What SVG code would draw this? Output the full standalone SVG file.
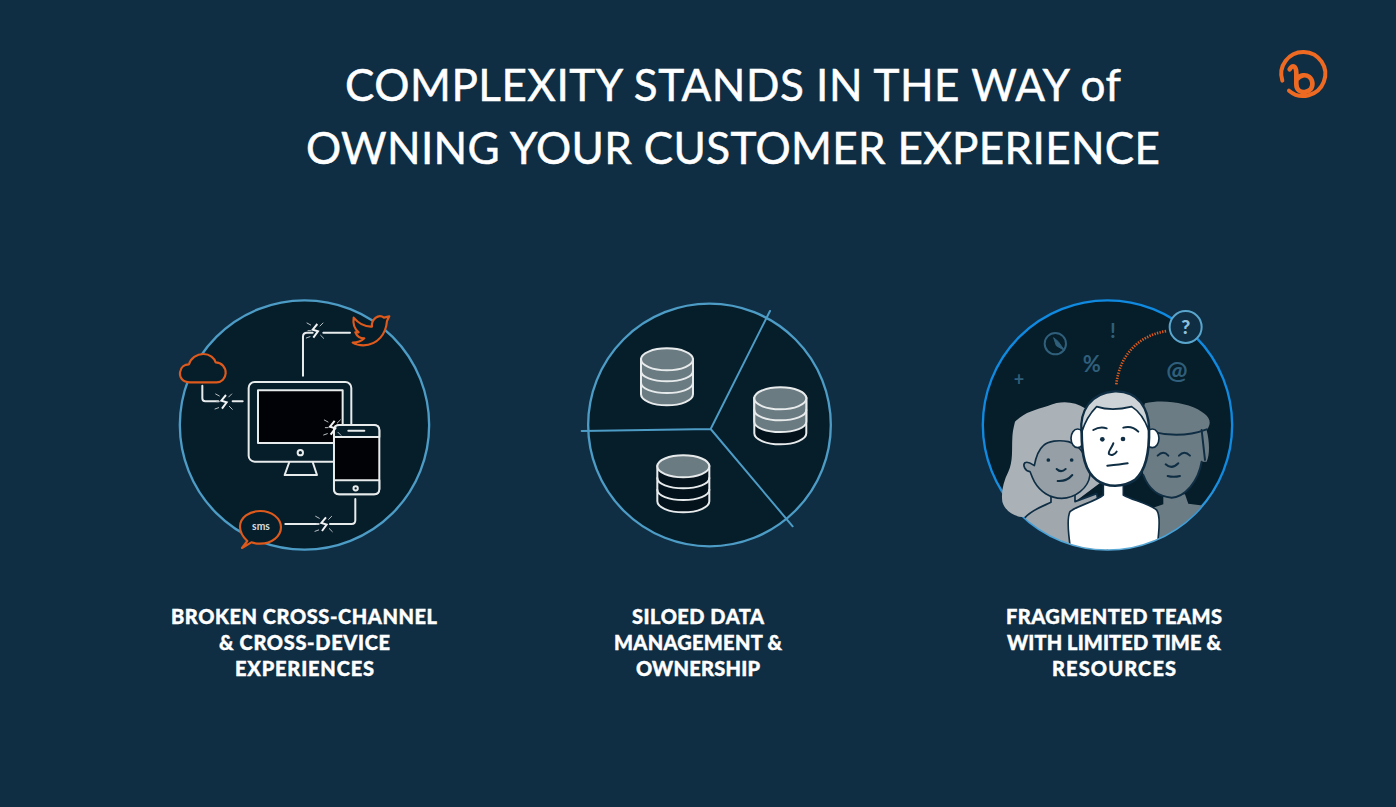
<svg xmlns="http://www.w3.org/2000/svg" xmlns:xlink="http://www.w3.org/1999/xlink" width="1396" height="807" viewBox="0 0 1396 807">
<style>
.title{font-family:"Lato","Liberation Sans",sans-serif;font-size:44px;fill:#fff;font-weight:400;stroke:#fff;stroke-width:0.5px}
.lab{font-family:"Lato","Liberation Sans",sans-serif;font-size:20px;fill:#fff;font-weight:900;stroke:#fff;stroke-width:0.4px}
.w{fill:none;stroke:#e8ebec;stroke-width:6;stroke-linecap:round;stroke-linejoin:round}
.wk{fill:#000206;stroke:#e8ebec;stroke-width:6;stroke-linejoin:round}
.wd{fill:#061d2a;stroke:#e8ebec;stroke-width:6;stroke-linejoin:round}
.or{fill:#061d2a;stroke:#dd5a1c;stroke-width:6.500;stroke-linejoin:round}
.ring{fill:#061d2a;stroke:#4d9cc6;stroke-width:7}
.sp{fill:none;stroke:#4d9cc6;stroke-width:6;stroke-linecap:round}
.ol{stroke:#0f2e44;stroke-width:5;stroke-linejoin:round;stroke-linecap:round}
.ln{fill:none;stroke:#0f2e44;stroke-width:6;stroke-linecap:round;stroke-linejoin:round}
.ic{font-family:"Lato","Liberation Sans",sans-serif;fill:#2f5f7a;text-anchor:middle;font-weight:700}
.db{fill:#6b7b82;stroke:#e8ebec;stroke-width:6}
.dk{fill:#04121b;stroke:#e8ebec;stroke-width:6}
</style>
<defs>
<g id="brk">
<path d="M6,-20L-8,-3L8,2L-6,21" fill="none" stroke="#f2f3f4" stroke-width="6" stroke-linejoin="miter"/>
<path d="M-14,-17L-25,-23M14,-14L23,-23M-16,18L-27,22M16,14L25,23M-14,0L-22,0" fill="none" stroke="#b9c0c4" stroke-width="3" stroke-linecap="round"/>
</g>
<clipPath id="inner"><circle cx="397.500" cy="390" r="373"/></clipPath>
<linearGradient id="rg" x1="0" y1="0" x2="0" y2="1">
<stop offset="0" stop-color="#0f8ae0"/><stop offset="0.7" stop-color="#0f8ae0"/><stop offset="1" stop-color="#5aa9d6"/>
</linearGradient>
</defs>
<rect width="1396" height="807" fill="#0f2e44"/>

<g id="title">
<text class="title" x="345" y="101" textLength="776" lengthAdjust="spacing">COMPLEXITY STANDS IN THE WAY of</text>
<text class="title" x="306" y="164" textLength="854" lengthAdjust="spacing">OWNING YOUR CUSTOMER EXPERIENCE</text>
</g>

<g id="logo" transform="translate(1263,40) scale(0.3333)">
<path d="M78,152A66,66 0 1 0 58,122" fill="none" stroke="#ee6a22" stroke-width="12" stroke-linecap="round"/>
<path d="M80,88C88,72 100,78 100,100V132C100,150 112,158 126,156C142,153 150,142 148,128C146,112 134,104 120,106C112,107 106,112 102,118" fill="none" stroke="#ee6a22" stroke-width="14" stroke-linecap="round"/>
</g>

<g id="node-cross-channel" transform="translate(170,295) scale(0.3333)">
<circle class="ring" cx="403.500" cy="390" r="374"/>
<g id="monitor">
<rect class="wd" x="236" y="261" width="308" height="239" rx="18"/>
<rect class="wk" x="264" y="286" width="254" height="158"/>
<circle class="w" cx="391" cy="473" r="8"/>
<path class="w" d="M358,501L344,540H441L428,501"/>
</g>
<g id="phone">
<rect class="wk" x="492" y="390" width="136" height="208" rx="16"/>
<path class="wd" d="M492,426V406C492,396 498,390 508,390H612C622,390 628,396 628,406V426Z"/>
<path class="wd" d="M492,556V582C492,592 498,598 508,598H612C622,598 628,592 628,582V556Z"/>
<path class="w" d="M535,407H583"/>
<circle class="w" cx="557" cy="580" r="6.500"/>
</g>
<path id="cloud" class="or" d="M60,262C38,262 28,247 30,232C32,216 44,208 57,208C62,190 80,177 100,177C120,177 133,190 137,202C155,202 168,218 167,235C166,250 155,262 140,262Z"/>
<path id="bird" class="or" d="M551,68C568,88 588,96 606,95C603,75 625,54 642,68L658,64L651,78C648,115 625,150 580,151C568,151 556,148 548,143C562,143 574,139 583,130C570,130 560,122 556,112L566,112C556,104 548,88 551,68Z"/>
<g id="sms-bubble">
<path class="or" d="M232,738C215,722 210,710 210,695C210,668 238,648 271,648C305,648 333,670 333,697C333,724 305,746 271,746C262,746 252,745 244,742L216,759Z"/>
<text x="273" y="706" font-family="Lato,'Liberation Sans',sans-serif" font-size="31" font-weight="700" fill="#d8dcde" text-anchor="middle">sms</text>
</g>
<g id="connectors">
<path class="w" d="M97,272V310Q97,319 106,319H145M188,319H218"/>
<path class="w" d="M399,242V125Q399,113 411,113H428M460,113H540"/>
<path class="w" d="M346,687H445M480,687H545Q556,687 556,676V612"/>
<use xlink:href="#brk" href="#brk" x="162" y="320"/>
<use xlink:href="#brk" href="#brk" x="436" y="107"/>
<use xlink:href="#brk" href="#brk" x="488" y="398"/>
<use xlink:href="#brk" href="#brk" x="462" y="687"/>
</g>
</g>

<g id="node-siloed-data" transform="translate(575,295) scale(0.3333)">
<circle class="ring" cx="403.500" cy="390" r="364"/>
<g id="spokes">
<path class="sp" d="M585,48L407,402L20,408M407,402L653,694"/>
</g>
<g id="db1" transform="translate(276,193)">
<path class="db" d="M-78,0V105C-78,123 -43,138 0,138C43,138 78,123 78,105V0Z"/>
<ellipse class="db" rx="78" ry="33"/>
<path class="w" d="M-78,35C-78,53 -43,66 0,66C43,66 78,53 78,35M-78,70C-78,88 -43,101 0,101C43,101 78,88 78,70"/>
</g>
<g id="db2" transform="translate(616,310)">
<path class="dk" d="M-78,0V105C-78,123 -43,138 0,138C43,138 78,123 78,105V0Z"/>
<path class="db" d="M-78,0V70C-78,88 -43,101 0,101C43,101 78,88 78,70V0Z"/>
<ellipse class="db" rx="78" ry="33"/>
<path class="w" d="M-78,35C-78,53 -43,66 0,66C43,66 78,53 78,35"/>
</g>
<g id="db3" transform="translate(325,514)">
<path class="dk" d="M-78,0V105C-78,123 -43,138 0,138C43,138 78,123 78,105V0Z"/>
<ellipse class="db" rx="78" ry="33"/>
<path class="w" d="M-78,35C-78,53 -43,66 0,66C43,66 78,53 78,35M-78,70C-78,88 -43,101 0,101C43,101 78,88 78,70"/>
</g>
</g>

<g id="node-teams" transform="translate(975,295) scale(0.3333)">
<circle cx="397.500" cy="390" r="374" fill="#061d2a" stroke="url(#rg)" stroke-width="7"/>
<g id="icons">
<circle cx="241" cy="146" r="32" fill="none" stroke="#2f5f7a" stroke-width="6"/>
<path d="M236,128L244,152L268,166L250,140Z" fill="#2f5f7a" stroke="#2f5f7a" stroke-width="3"/>
<text class="ic" x="414" y="130" font-size="62">!</text>
<text class="ic" x="350" y="232" font-size="66">%</text>
<text class="ic" x="132" y="273" font-size="54">+</text>
<text class="ic" x="606" y="252" font-size="76">@</text>
</g>
<path d="M424,268C434,180 490,122 575,108" fill="none" stroke="#dd5a1c" stroke-width="8" stroke-dasharray="4 4"/>
<circle cx="632" cy="96" r="48" fill="#0f2e44" stroke="#5aa5cc" stroke-width="6"/>
<text x="632" y="117" font-family="Lato,'Liberation Sans',sans-serif" font-size="58" font-weight="900" fill="#8fc0dd" text-anchor="middle">?</text>

<g id="woman">
<path d="M120,380C150,350 180,345 220,332C260,315 300,320 330,340L380,560L300,620C240,640 180,650 150,665C125,670 90,650 82,620C78,590 85,560 100,530C115,500 110,460 112,430C113,405 118,390 120,380Z" fill="#aab1b7"/>
<g clip-path="url(#inner)"><path d="M150,668C170,645 200,635 228,622V600H300V620L365,596L400,780H100Z" fill="#a0a8ae" class="ol"/></g>
<path d="M178,560C168,540 168,535 165,530C150,528 142,510 150,503C160,498 172,508 178,512C182,490 190,465 205,452C220,438 250,434 280,440C320,450 345,500 345,540C340,580 300,610 260,610C225,610 195,590 178,560Z" fill="#959fa5" class="ol"/>
<circle cx="220" cy="495" r="5.500" fill="#0f2e44"/><circle cx="290" cy="495" r="5.500" fill="#0f2e44"/>
<path class="ln" d="M245,522Q258,535 272,522M248,558Q275,560 292,540"/>
</g>

<g id="man-right">
<path d="M510,325C560,312 640,322 680,350C705,365 712,385 695,405C704,440 705,480 695,500L680,500C670,560 630,605 590,608C550,605 520,580 505,540L490,400Z" fill="#6c7c84"/>
<g clip-path="url(#inner)"><path d="M565,606V628L530,640V780H640L700,634L640,626L630,598Z" fill="#6c7c84"/></g>
<path class="ln" d="M530,410C590,425 650,420 695,403M680,405L690,495M505,540C520,580 550,605 590,608C630,605 670,560 680,500M548,482Q565,465 580,482M612,482Q628,465 645,482M572,508Q590,525 610,505M578,543Q595,548 615,543"/>
</g>

<g id="man-center">
<ellipse cx="308" cy="430" rx="20" ry="28" fill="#fff" class="ol"/>
<ellipse cx="532" cy="430" rx="20" ry="28" fill="#fff" class="ol"/>
<g clip-path="url(#inner)"><path d="M385,560V600C360,620 300,635 285,650C275,670 280,720 288,770H545C555,690 555,660 545,645C520,625 470,615 445,600V560Z" fill="#fff" class="ol"/></g>
<path d="M320,410C315,350 345,295 420,290C490,288 520,340 522,400C524,470 515,525 480,555C445,578 395,578 365,555C330,530 320,480 320,410Z" fill="#fff" stroke="#0f2e44" stroke-width="8"/>
<path d="M320,412C315,350 345,295 420,290C490,288 520,340 522,408C510,375 495,350 470,335C430,345 395,345 365,335C345,355 330,380 320,412Z" fill="#cdd3d6" class="ol"/>
<circle cx="382" cy="433" r="7" fill="#0f2e44"/><circle cx="444" cy="432" r="7" fill="#0f2e44"/>
<path class="ln" d="M355,405Q375,393 395,400M445,398Q470,390 490,410M415,445C410,460 398,470 402,477C408,482 420,480 425,470M397,512C420,510 440,508 458,505"/>
</g>
</g>

<g id="labels" text-anchor="start">
<text class="lab" x="171" y="624" textLength="266">BROKEN CROSS-CHANNEL</text>
<text class="lab" x="219" y="650" textLength="171">&amp; CROSS-DEVICE</text>
<text class="lab" x="235" y="676" textLength="139">EXPERIENCES</text>
<text class="lab" x="632" y="624" textLength="132">SILOED DATA</text>
<text class="lab" x="614" y="650" textLength="168">MANAGEMENT &amp;</text>
<text class="lab" x="636" y="676" textLength="124">OWNERSHIP</text>
<text class="lab" x="1006" y="624" textLength="216">FRAGMENTED TEAMS</text>
<text class="lab" x="1007" y="650" textLength="214">WITH LIMITED TIME &amp;</text>
<text class="lab" x="1052" y="676" textLength="124">RESOURCES</text>
</g>
</svg>
